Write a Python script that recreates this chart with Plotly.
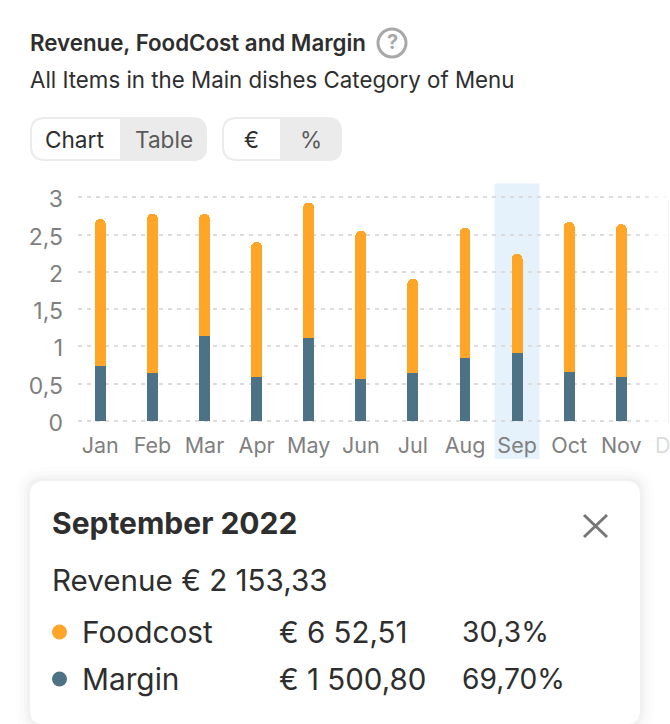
"""Revenue, food cost and margin per month, with the detail card for September."""

import plotly.graph_objects as go

MONTHS = ["Jan", "Feb", "Mar", "Apr", "May", "Jun", "Jul", "Aug", "Sep", "Oct", "Nov"]
MARGIN = [0.74, 0.64, 1.14, 0.59, 1.11, 0.56, 0.64, 0.84, 0.91, 0.66, 0.59]
FOODCOST = [1.97, 2.14, 1.64, 1.81, 1.82, 1.99, 1.27, 1.75, 1.33, 2.01, 2.05]
Y_TICKS = [0, 0.5, 1, 1.5, 2, 2.5, 3]
SELECTED = "Sep"

TITLE = "Revenue, FoodCost and Margin"
SUBTITLE = "All Items in the Main dishes Category of Menu"
CARD_TITLE = "September 2022"
CARD_REVENUE = "Revenue € 2 153,33"
CARD_LABELS = ["Foodcost", "Margin"]
CARD_AMOUNTS = ["€ 6 52,51", "€ 1 500,80"]
CARD_SHARES = ["30,3%", "69,70%"]

W, H = 670, 724
ORANGE = "#ffa629"
BLUE = "#4d7185"
DARK = "#2e2e2e"
GREY = "#7f7f7f"
FONT = "Inter"


def px(x):
    return x / W


def py(y):
    return 1 - y / H


def rounded(x0, y0, x1, y1, r=0, r_left=None, r_right=None):
    # rounded rectangle as a svg path in paper coordinates
    rl = r if r_left is None else r_left
    rr = r if r_right is None else r_right
    p = lambda x, y: f"{px(x):.5f},{py(y):.5f}"
    return (
        f"M{p(x0 + rl, y0)} L{p(x1 - rr, y0)} Q{p(x1, y0)} {p(x1, y0 + rr)} "
        f"L{p(x1, y1 - rr)} Q{p(x1, y1)} {p(x1 - rr, y1)} L{p(x0 + rl, y1)} "
        f"Q{p(x0, y1)} {p(x0, y1 - rl)} L{p(x0, y0 + rl)} Q{p(x0, y0)} {p(x0 + rl, y0)} Z"
    )


fig = go.Figure()
fig.add_trace(go.Bar(x=MONTHS, y=MARGIN, name="Margin", marker=dict(color=BLUE, line_width=0), width=0.21))
fig.add_trace(go.Bar(x=MONTHS, y=FOODCOST, name="Foodcost", marker=dict(color=ORANGE, line_width=0), width=0.21))

shapes = []


def add_path(path, fill, line=None, width=0, layer="above", opacity=1):
    shapes.append(dict(
        type="path", path=path, xref="paper", yref="paper", fillcolor=fill,
        line=dict(color=line or fill, width=width), layer=layer, opacity=opacity,
    ))


# selected month band
sel = MONTHS.index(SELECTED)
shapes.append(dict(
    type="rect", xref="x", yref="paper", x0=sel - 0.43, x1=sel + 0.43,
    y0=py(459), y1=py(183.5), fillcolor="#e5f1fb", line_width=0, layer="below",
))

# right edge fade over the gridlines
for i in range(8):
    shapes.append(dict(
        type="rect", xref="paper", yref="paper",
        x0=px(638 + 4 * i), x1=px(642 + 4 * i), y0=py(425), y1=py(190),
        fillcolor="white", opacity=0.12 * (i + 1), line_width=0, layer="above",
    ))
shapes.append(dict(
    type="line", xref="paper", yref="paper", x0=px(668.5), x1=px(668.5), y0=py(425), y1=py(200),
    line=dict(color="#f4f4f4", width=1),
))

# toggles
add_path(rounded(31, 118, 206, 160, 14), "white", "#ebebeb", 2)
add_path(rounded(120, 118, 207, 161, r_left=0, r_right=14), "#ebebeb")
add_path(rounded(223, 118, 341, 160, 14), "white", "#ebebeb", 2)
add_path(rounded(280, 118, 342, 161, r_left=0, r_right=14), "#ebebeb")

# help icon
shapes.append(dict(
    type="circle", xref="paper", yref="paper", x0=px(378), x1=px(406), y0=py(57), y1=py(29),
    line=dict(color="#a8a8a8", width=3), fillcolor="white",
))

# card with a soft shadow
for grow, alpha in [(14, 0.008), (10, 0.012), (6, 0.016), (3, 0.02)]:
    add_path(rounded(30 - grow, 481 - grow, 640 + grow, 724 + grow, 14 + grow), "black", opacity=alpha)
add_path(rounded(30, 481, 640, 724, 14), "white")

# close icon
for x0, y0, x1, y1 in [(584, 515, 607, 537), (584, 537, 607, 515)]:
    shapes.append(dict(
        type="line", xref="paper", yref="paper", x0=px(x0), x1=px(x1), y0=py(y0), y1=py(y1),
        line=dict(color="#777777", width=3),
    ))

# legend dots
for yc, color in zip([632, 679], [ORANGE, BLUE]):
    shapes.append(dict(
        type="circle", xref="paper", yref="paper", x0=px(52), x1=px(67), y0=py(yc + 7.5), y1=py(yc - 7.5),
        fillcolor=color, line_width=0,
    ))

annotations = []


def add_text(x, y, text, size, color=DARK, weight=400, anchor="left"):
    annotations.append(dict(
        x=px(x), y=py(y), xref="paper", yref="paper", text=text, showarrow=False,
        xanchor=anchor, yanchor="middle", align=anchor, borderpad=0,
        font=dict(family=FONT, size=size, color=color, weight=weight),
    ))


add_text(29, 43, TITLE, 22.3, weight=600)
add_text(392, 42.5, "?", 20, color="#a8a8a8", weight=700, anchor="center")
add_text(29, 80, SUBTITLE, 22.3)
add_text(74.5, 139.5, "Chart", 22.6, anchor="center")
add_text(163.5, 139.5, "Table", 22.6, color="#5a5a5a", anchor="center")
add_text(251, 139.5, "€", 22.6, anchor="center")
add_text(311, 139.5, "%", 22.6, color="#5a5a5a", anchor="center")
add_text(654, 445, "Dec", 21.5, color="#dcdcdc")
add_text(51, 523, CARD_TITLE, 30, weight=700)
add_text(51, 580, CARD_REVENUE, 29.6)
for yc, label, amount, share in zip([632, 679], CARD_LABELS, CARD_AMOUNTS, CARD_SHARES):
    add_text(81, yc, label, 29.8)
    add_text(278, yc, amount, 29.5)
    add_text(461, yc, share, 28.2)

fig.update_layout(
    width=W,
    height=H,
    autosize=False,
    barmode="stack",
    barcornerradius=5.5,
    separators=", ",
    showlegend=False,
    plot_bgcolor="rgba(0,0,0,0)",
    paper_bgcolor="white",
    margin=dict(l=0, r=0, t=0, b=0, pad=0, autoexpand=False),
    font=dict(family=FONT, color=GREY),
    xaxis=dict(
        domain=[px(78), 1],
        range=[-0.428, 10.935],
        showgrid=False,
        zeroline=False,
        showline=False,
        ticks="",
        tickfont=dict(family=FONT, size=21.5, color=GREY),
        ticklabelstandoff=8,
    ),
    yaxis=dict(
        domain=[py(422.3), py(195.9)],
        range=[-0.02, 3.02],
        tickvals=Y_TICKS,
        tickformat="~g",
        showgrid=True,
        gridcolor="#dcdcdc",
        gridwidth=1.5,
        griddash="4px,5px",
        zeroline=False,
        showline=False,
        ticks="",
        tickfont=dict(family=FONT, size=23, color=GREY),
        ticklabelstandoff=14,
        ticklabelshift=2,
    ),
    shapes=shapes,
    annotations=annotations,
)

fig.write_html(
    "out.html",
    config=dict(displayModeBar=False),
    post_script="document.body.style.margin='0';",
)
